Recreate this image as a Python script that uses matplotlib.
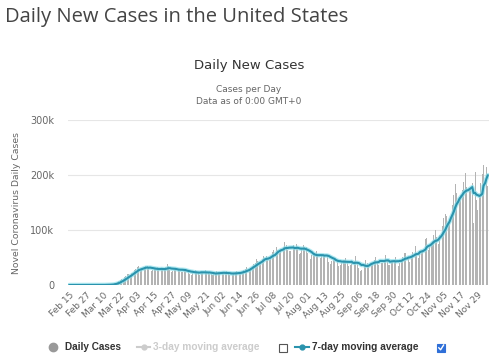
import matplotlib
matplotlib.use("Agg")
import matplotlib.pyplot as plt
import pandas as pd
from matplotlib.lines import Line2D
from matplotlib.patches import Rectangle

start_date = "2020-02-15"

feb = [0, 0, 0, 0, 0, 0, 0, 0, 0, 0, 0, 0, 0, 1, 5]
mar = [8, 12, 20, 28, 75, 72, 110, 120, 170, 300, 380, 450, 680, 690, 960, 1100,
       1800, 2800, 4600, 5700, 6900, 9300, 10600, 11300, 13800, 17000, 19400,
       19600, 19000, 21700, 25400]
apr = [26900, 29500, 32300, 34000, 25500, 29500, 32000, 32400, 34200, 34900,
       31000, 27800, 26000, 27500, 30000, 31000, 32100, 29800, 26600, 27800,
       26400, 29100, 31900, 38000, 34000, 27000, 23400, 25200, 27300, 30500]
may = [34000, 29500, 25100, 23000, 24500, 25100, 29300, 27100, 25800, 20100,
       18700, 22300, 20800, 27300, 25200, 24300, 19000, 22400, 21500, 21400,
       27600, 24300, 22800, 19200, 19800, 18400, 19500, 22600, 25100, 24300, 20800]
jun = [21400, 20500, 20800, 21800, 25500, 22700, 18500, 18000, 19000, 21400,
       23200, 25500, 25300, 19500, 20300, 23800, 26500, 28400, 32400, 32400,
       27600, 31600, 35400, 38600, 40800, 46500, 43100, 40200, 41500, 47000]
jul = [51900, 56700, 52200, 45600, 45700, 51000, 60100, 62900, 63200, 70000,
       63600, 58500, 61600, 67400, 69300, 77300, 72800, 64400, 62200, 62100,
       66700, 72000, 69700, 74900, 66500, 56000, 57500, 66600, 72300, 68700, 68500]
aug = [58100, 47500, 47400, 54400, 54800, 58600, 62000, 55300, 46500, 48500,
       53200, 55000, 53500, 64000, 53300, 41300, 37400, 44200, 46300, 46000,
       49100, 45600, 35400, 36300, 39400, 45600, 45500, 49100, 43000, 34800, 36300]
sep = [42400, 31000, 44100, 51900, 42500, 31400, 25200, 27600, 34300, 36400,
       46300, 40800, 35000, 36800, 39300, 40200, 45300, 50200, 42500, 36600,
       52200, 39200, 39200, 45300, 55200, 45600, 35700, 36100, 43800, 41400]
oct_ = [46300, 50600, 49300, 35000, 40400, 44700, 51200, 57300, 58800, 50300,
        46600, 42500, 51600, 60200, 66300, 71700, 55300, 48900, 62100, 61600,
        63400, 76500, 84300, 84600, 63500, 68400, 74300, 80800, 91500, 99300, 86800]
nov = [75000, 90600, 93100, 107000, 121500, 129600, 126000, 110000, 119000, 139900,
       145400, 163200, 184500, 166500, 138400, 159700, 162800, 172000, 188000, 203000,
       178000, 142900, 172000, 176000, 186000, 112000, 205500, 155300, 136000, 163000]
dec = [186000, 202000, 217600, 235000, 214000, 180000]

daily_cases = feb + mar + apr + may + jun + jul + aug + sep + oct_ + nov + dec

tick_labels = ["Feb 15", "Feb 27", "Mar 10", "Mar 22", "Apr 03", "Apr 15", "Apr 27",
               "May 09", "May 21", "Jun 02", "Jun 14", "Jun 26", "Jul 08", "Jul 20",
               "Aug 01", "Aug 13", "Aug 25", "Sep 06", "Sep 18", "Sep 30", "Oct 12",
               "Oct 24", "Nov 05", "Nov 17", "Nov 29"]
y_ticks = [0, 100000, 200000, 300000]
y_tick_labels = ["0", "100k", "200k", "300k"]

dates = pd.date_range(start_date, periods=len(daily_cases), freq="D")
s = pd.Series(daily_cases, index=dates)
avg7 = s.rolling(7, min_periods=1).mean()
x = list(range(len(s)))
label_dates = [d.strftime("%b %d") for d in dates]
tick_pos = [label_dates.index(t) for t in tick_labels]

W, H = 496, 362
fig = plt.figure(figsize=(W / 100, H / 100), dpi=100)
fig.patch.set_facecolor("white")

ax = fig.add_axes([68 / W, 1 - 285 / H, (489 - 68) / W, (285 - 120) / H])
ax.set_facecolor("white")
ax.bar(x, s.values, width=0.62, color="#b3b3b3", zorder=2)
ax.plot(x, avg7.values, color="#8fe0ec", lw=3.2, alpha=0.7, zorder=3,
        solid_capstyle="round")
ax.plot(x, avg7.values, color="#2a93ad", lw=1.5, zorder=4, solid_capstyle="round")

ax.set_xlim(-0.8, len(s) - 0.2)
ax.set_ylim(0, 300000)
ax.set_yticks(y_ticks)
ax.set_yticklabels(y_tick_labels, fontsize=7, color="#666666", family="DejaVu Sans")
ax.set_xticks(tick_pos)
ax.set_xticklabels(tick_labels, rotation=45, ha="right", rotation_mode="anchor",
                   fontsize=6.5, color="#666666", family="DejaVu Sans")
ax.tick_params(axis="both", length=0)
ax.tick_params(axis="y", pad=10)
ax.tick_params(axis="x", pad=4)
ax.grid(axis="y", color="#e6e6e6", lw=0.8, zorder=0)
for sp in ax.spines.values():
    sp.set_visible(False)
ax.set_ylabel("Novel Coronavirus Daily Cases", fontsize=6.7, color="#666666",
              family="DejaVu Sans", labelpad=6)
ax.yaxis.set_label_coords(-(68 - 21) / (489 - 68), 0.5)

fig.text(5 / W, 1 - 17 / H, "Daily New Cases in the United States", fontsize=14.5,
         color="#444444", family="Open Sans", va="center", ha="left")
fig.text(249 / W, 1 - 66 / H, "Daily New Cases", fontsize=9.5, color="#333333",
         family="DejaVu Sans", va="center", ha="center")
fig.text(249 / W, 1 - 90 / H, "Cases per Day", fontsize=6.5, color="#666666",
         family="DejaVu Sans", va="center", ha="center")
fig.text(249 / W, 1 - 101 / H, "Data as of 0:00 GMT+0", fontsize=6.5, color="#666666",
         family="DejaVu Sans", va="center", ha="center")

# legend
ly = 1 - 347 / H
fig.add_artist(Line2D([53 / W], [ly], marker="o", markersize=6, color="#999999",
                      transform=fig.transFigure, lw=0))
fig.text(65 / W, ly, "Daily Cases", fontsize=7.2, fontweight="bold", color="#333333",
         family="Liberation Sans", va="center", ha="left")
fig.add_artist(Line2D([137 / W, 143.5 / W, 150 / W], [ly, ly, ly], marker="o",
                      markersize=3.5, markevery=[1], color="#cccccc", lw=1.5,
                      transform=fig.transFigure))
fig.text(153 / W, ly, "3-day moving average", fontsize=7.3, fontweight="bold",
         color="#cccccc", family="Liberation Sans", va="center", ha="left")
fig.add_artist(Rectangle((279 / W, 1 - 352 / H), 8 / W, 8 / H, transform=fig.transFigure,
                         facecolor="white", edgecolor="#555555", lw=0.8))
fig.add_artist(Line2D([295 / W, 302 / W, 309 / W], [ly, ly, ly], marker="o",
                      markersize=3.5, markevery=[1], color="#2a93ad", lw=1.5,
                      transform=fig.transFigure))
fig.text(312 / W, ly, "7-day moving average", fontsize=7.3, fontweight="bold",
         color="#333333", family="Liberation Sans", va="center", ha="left")
fig.add_artist(Rectangle((437 / W, 1 - 352 / H), 8 / W, 8 / H, transform=fig.transFigure,
                         facecolor="#2f6fd8", edgecolor="#2f6fd8", lw=0.8))
fig.add_artist(Line2D([438.8 / W, 440.6 / W, 443.6 / W],
                      [1 - 347.8 / H, 1 - 349.8 / H, 1 - 345 / H],
                      color="white", lw=1.0, transform=fig.transFigure))

fig.savefig("out.png", dpi=100, facecolor="white")
